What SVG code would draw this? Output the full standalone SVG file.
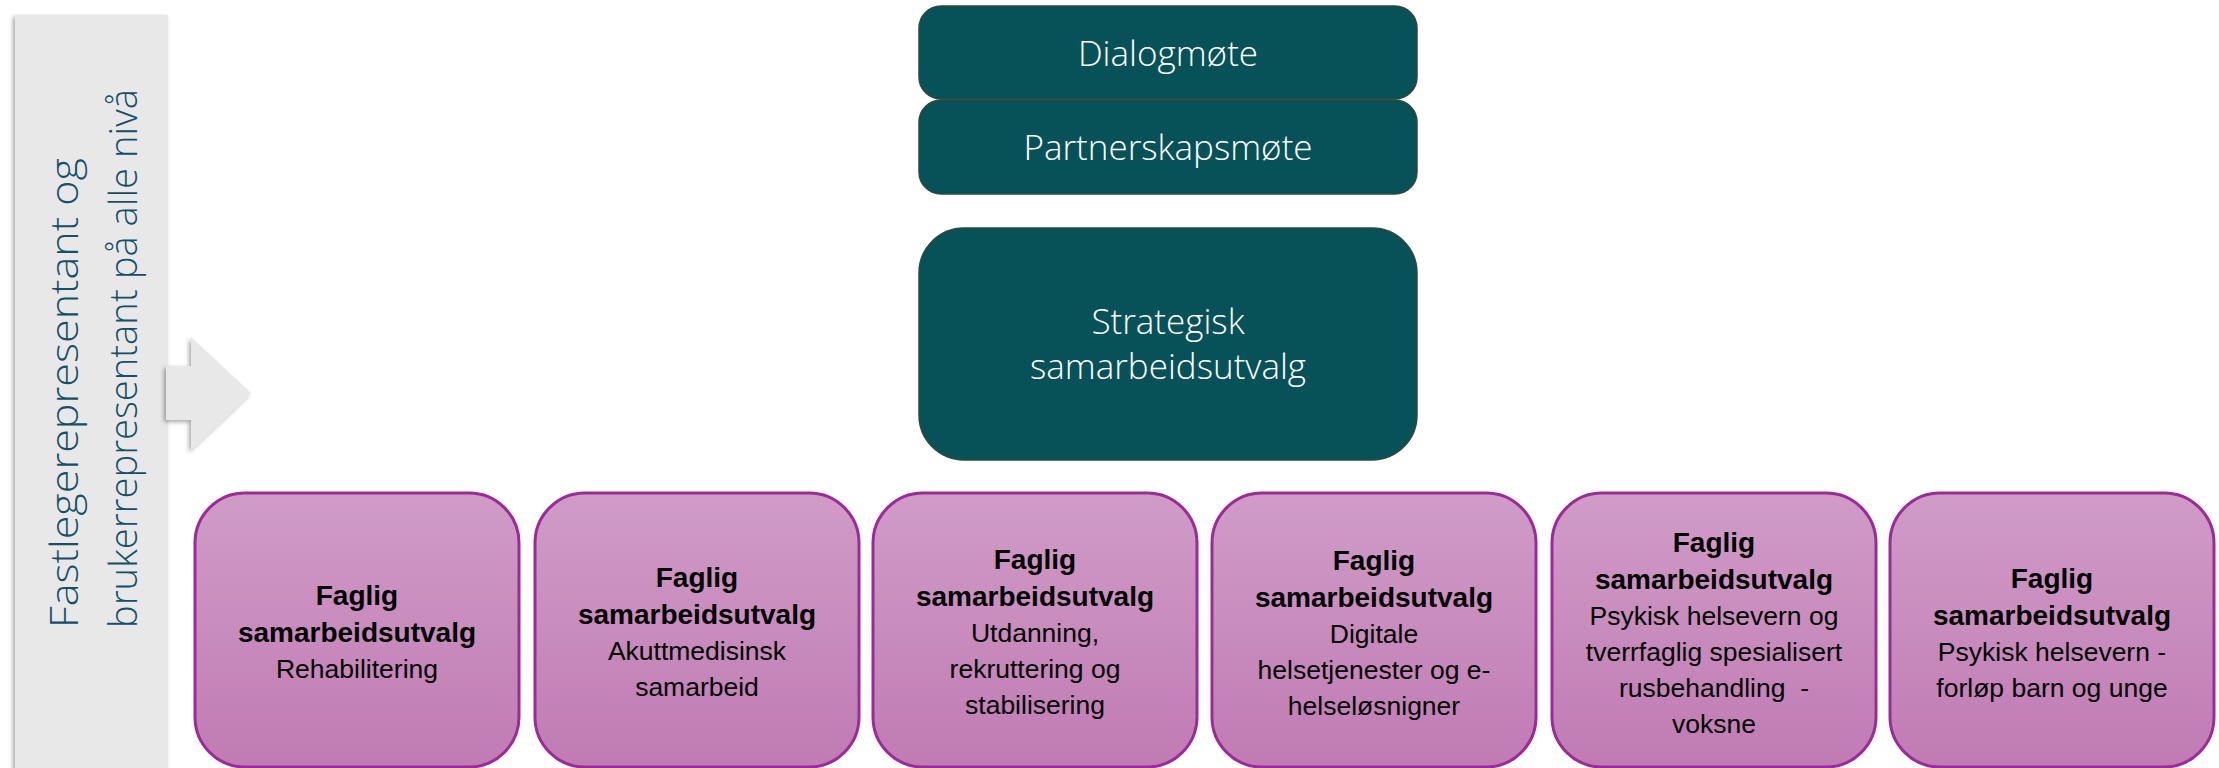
<svg xmlns="http://www.w3.org/2000/svg" width="2219" height="768" viewBox="0 0 2219 768">
<defs>
<linearGradient id="pinkGrad" x1="0" y1="0" x2="0" y2="1">
<stop offset="0" stop-color="#d09cc7"/>
<stop offset="1" stop-color="#c07bb3"/>
</linearGradient>
<filter id="shadow" x="-20%" y="-5%" width="140%" height="110%">
<feDropShadow dx="-2" dy="2" stdDeviation="2" flood-color="#000" flood-opacity="0.35"/>
</filter>
<style>
.teal{fill:#075159;stroke:#2c4b38;stroke-width:1.5}
.tealtxt{font-family:"Open Sans","Lato","Liberation Sans",sans-serif;font-weight:300;fill:#ffffff;text-anchor:middle}
.pink{fill:url(#pinkGrad);stroke:#9b2b98;stroke-width:3}
.ptxt{font-family:"Liberation Sans",Arial,sans-serif;fill:#000;text-anchor:middle;font-size:26.5px}
.pb{font-weight:bold;font-size:28px}
.side{fill:#e8e8e8}
.sidetxt{font-family:"Open Sans","Lato","Liberation Sans",sans-serif;font-weight:300;fill:#15506a;font-size:39px}
</style>
</defs>
<rect width="2219" height="768" fill="#ffffff"/>

<g id="side-bar">
<rect class="side" x="15" y="15" width="153" height="760" filter="url(#shadow)"/>
<text class="sidetxt" x="78" y="628" transform="rotate(-90 78 628)" textLength="470" lengthAdjust="spacingAndGlyphs">Fastlegerepresentant og</text>
<text class="sidetxt" x="137" y="628" transform="rotate(-90 137 628)" textLength="539" lengthAdjust="spacingAndGlyphs">brukerrepresentant på alle nivå</text>
</g>

<g id="connectors">
<polygon class="side" points="166,366 191,366 191,337 251,393 191,450 191,420 166,420" filter="url(#shadow)"/>
</g>

<g id="dialogmote">
<rect class="teal" x="919" y="6" width="498" height="93" rx="22" ry="22"/>
<text class="tealtxt" x="1168" y="66" font-size="35">Dialogmøte</text>
</g>

<g id="partnerskapsmote">
<rect class="teal" x="919" y="100" width="498" height="94" rx="22" ry="22"/>
<text class="tealtxt" x="1168" y="160" font-size="35">Partnerskapsmøte</text>
</g>

<g id="strategisk">
<rect class="teal" x="919" y="228" width="498" height="232" rx="45" ry="45"/>
<text class="tealtxt" font-size="35"><tspan x="1168" y="334">Strategisk</tspan><tspan x="1168" y="379">samarbeidsutvalg</tspan></text>
</g>

<g id="fsu-rehabilitering">
<rect class="pink" x="195" y="493" width="324" height="274" rx="50" ry="50"/>
<text class="ptxt"><tspan class="pb" x="357" y="605">Faglig</tspan><tspan class="pb" x="357" y="642">samarbeidsutvalg</tspan><tspan x="357" y="678">Rehabilitering</tspan></text>
</g>

<g id="fsu-akuttmedisin">
<rect class="pink" x="535" y="493" width="324" height="274" rx="50" ry="50"/>
<text class="ptxt"><tspan class="pb" x="697" y="587">Faglig</tspan><tspan class="pb" x="697" y="624">samarbeidsutvalg</tspan><tspan x="697" y="660">Akuttmedisinsk</tspan><tspan x="697" y="696">samarbeid</tspan></text>
</g>

<g id="fsu-utdanning">
<rect class="pink" x="873" y="493" width="324" height="274" rx="50" ry="50"/>
<text class="ptxt"><tspan class="pb" x="1035" y="569">Faglig</tspan><tspan class="pb" x="1035" y="606">samarbeidsutvalg</tspan><tspan x="1035" y="642">Utdanning,</tspan><tspan x="1035" y="678">rekruttering og</tspan><tspan x="1035" y="714">stabilisering</tspan></text>
</g>

<g id="fsu-digitale">
<rect class="pink" x="1212" y="493" width="324" height="274" rx="50" ry="50"/>
<text class="ptxt"><tspan class="pb" x="1374" y="570">Faglig</tspan><tspan class="pb" x="1374" y="607">samarbeidsutvalg</tspan><tspan x="1374" y="643">Digitale</tspan><tspan x="1374" y="679">helsetjenester og e-</tspan><tspan x="1374" y="715">helseløsnigner</tspan></text>
</g>

<g id="fsu-psykisk-voksne">
<rect class="pink" x="1552" y="493" width="324" height="274" rx="50" ry="50"/>
<text class="ptxt" xml:space="preserve"><tspan class="pb" x="1714" y="552">Faglig</tspan><tspan class="pb" x="1714" y="589">samarbeidsutvalg</tspan><tspan x="1714" y="625">Psykisk helsevern og</tspan><tspan x="1714" y="661">tverrfaglig spesialisert</tspan><tspan x="1714" y="697">rusbehandling  -</tspan><tspan x="1714" y="733">voksne</tspan></text>
</g>

<g id="fsu-psykisk-barn">
<rect class="pink" x="1890" y="493" width="324" height="274" rx="50" ry="50"/>
<text class="ptxt"><tspan class="pb" x="2052" y="588">Faglig</tspan><tspan class="pb" x="2052" y="625">samarbeidsutvalg</tspan><tspan x="2052" y="661">Psykisk helsevern -</tspan><tspan x="2052" y="697">forløp barn og unge</tspan></text>
</g>
</svg>
